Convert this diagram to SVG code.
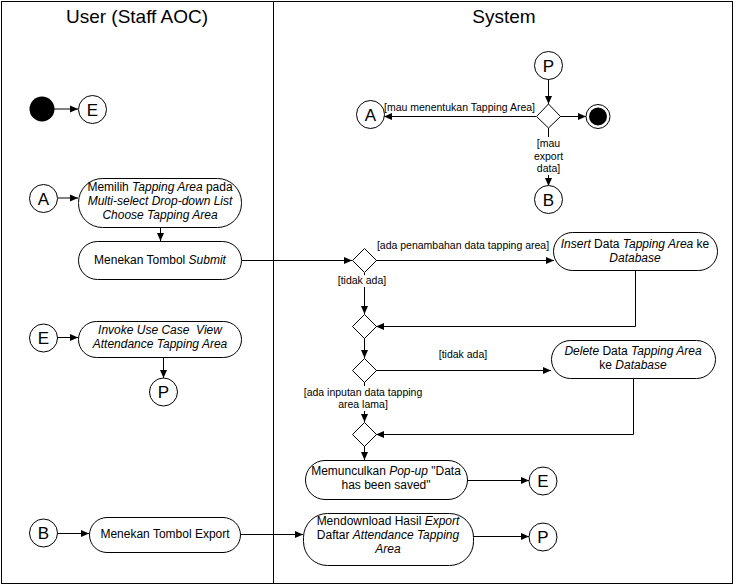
<svg xmlns="http://www.w3.org/2000/svg" width="735" height="586" viewBox="0 0 735 586">
<style>
text{font-family:"Liberation Sans",Arial,sans-serif;fill:#000}
.title{font-size:19px;text-anchor:middle}
.nt{font-size:12px;text-anchor:middle}
.lb{font-size:10.5px}
.ct{font-size:17px;text-anchor:middle}
.act{fill:#fff;stroke:#000;stroke-width:1}
.cir{fill:#fff;stroke:#000;stroke-width:1}
.dia{fill:#fff;stroke:#000;stroke-width:1}
.ln{fill:none;stroke:#000;stroke-width:1;marker-end:url(#ah)}
.bg{fill:#fff;stroke:none}
</style>
<defs>
<marker id="ah" markerUnits="userSpaceOnUse" markerWidth="8" markerHeight="8" refX="8" refY="4" orient="auto">
<path d="M0,0.5 L8,4 L0,7.5 z" fill="#000"/>
</marker>
</defs>
<rect x="0" y="0" width="735" height="586" fill="#fff"/>
<g id="lanes">
<rect x="1.5" y="1.5" width="731" height="582" fill="none" stroke="#000"/>
<line x1="273.5" y1="1.5" x2="273.5" y2="583.5" stroke="#000"/>
<text class="title" x="137" y="23">User (Staff AOC)</text>
<text class="title" x="504" y="23">System</text>
</g>
<g id="connectors">
<line class="ln" x1="54" y1="109" x2="78" y2="109"/>
<line class="ln" x1="58" y1="198" x2="78" y2="198"/>
<line class="ln" x1="160.5" y1="227" x2="160.5" y2="241"/>
<line class="ln" x1="241" y1="260.5" x2="352" y2="260.5"/>
<line class="ln" x1="376" y1="260.5" x2="554" y2="260.5"/>
<polyline class="ln" points="635.5,270 635.5,326.5 376,326.5"/>
<line class="ln" x1="364.5" y1="273" x2="364.5" y2="314"/>
<line class="ln" x1="364.5" y1="338" x2="364.5" y2="358"/>
<line class="ln" x1="376" y1="370.5" x2="551" y2="370.5"/>
<polyline class="ln" points="633.5,378 633.5,434.5 376,434.5"/>
<line class="ln" x1="364.5" y1="382" x2="364.5" y2="422"/>
<line class="ln" x1="364.5" y1="446" x2="364.5" y2="460"/>
<line class="ln" x1="467" y1="480.5" x2="529" y2="480.5"/>
<line class="ln" x1="58" y1="337.5" x2="78" y2="337.5"/>
<line class="ln" x1="163.5" y1="357" x2="163.5" y2="378"/>
<line class="ln" x1="58" y1="533.5" x2="89" y2="533.5"/>
<line class="ln" x1="240" y1="534.5" x2="303" y2="534.5"/>
<line class="ln" x1="473" y1="536.5" x2="529" y2="536.5"/>
<line class="ln" x1="548.5" y1="79" x2="548.5" y2="104"/>
<line class="ln" x1="536" y1="116.5" x2="384" y2="116.5"/>
<line class="ln" x1="560" y1="116.5" x2="586" y2="116.5"/>
<line class="ln" x1="548.5" y1="128" x2="548.5" y2="186"/>
<rect class="bg" x="530" y="137" width="37" height="38"/>
<text class="lb" x="548.5" y="147" text-anchor="middle">[mau</text>
<text class="lb" x="548.5" y="160" text-anchor="middle">export</text>
<text class="lb" x="548.5" y="172" text-anchor="middle">data]</text>
<text class="lb" x="535" y="111" text-anchor="end">[mau menentukan Tapping Area]</text>
<text class="lb" x="463" y="249" text-anchor="middle">[ada penambahan data tapping area]</text>
<rect class="bg" x="336" y="275" width="52" height="12"/>
<text class="lb" x="362" y="284" text-anchor="middle">[tidak ada]</text>
<text class="lb" x="463" y="358" text-anchor="middle">[tidak ada]</text>
<rect class="bg" x="302" y="386" width="122" height="25"/>
<text class="lb" x="363" y="396" text-anchor="middle">[ada inputan data tapping</text>
<text class="lb" x="363" y="408" text-anchor="middle">area lama]</text>
</g>
<g id="start">
<circle cx="42" cy="109" r="12.5" fill="#000"/>
</g>
<g id="conn-E1">
<circle class="cir" cx="92.5" cy="109.5" r="14"/>
<text class="ct" x="92.5" y="115.5">E</text>
</g>
<g id="conn-A1">
<circle class="cir" cx="43.5" cy="198.5" r="14"/>
<text class="ct" x="43.5" y="204.5">A</text>
</g>
<g id="memilih">
<rect class="act" x="78.5" y="178.5" width="163" height="49" rx="24" ry="24"/>
<text class="nt" x="160" y="191">Memilih <tspan font-style="italic">Tapping Area</tspan> pada</text>
<text class="nt" x="160" y="205" font-style="italic">Multi-select Drop-down List</text>
<text class="nt" x="160" y="219" font-style="italic">Choose Tapping Area</text>
</g>
<g id="submit">
<rect class="act" x="78.5" y="241.5" width="163" height="38" rx="19" ry="19"/>
<text class="nt" x="160" y="264">Menekan Tombol <tspan font-style="italic">Submit</tspan></text>
</g>
<g id="conn-E2">
<circle class="cir" cx="43.5" cy="338" r="14"/>
<text class="ct" x="43.5" y="344">E</text>
</g>
<g id="invoke">
<rect class="act" x="78.5" y="321.5" width="163" height="36" rx="18" ry="18"/>
<text class="nt" x="160" y="334" font-style="italic" xml:space="preserve">Invoke Use Case  View</text>
<text class="nt" x="160" y="348" font-style="italic">Attendance Tapping Area</text>
</g>
<g id="conn-P1">
<circle class="cir" cx="163.5" cy="392" r="14"/>
<text class="ct" x="163.5" y="398">P</text>
</g>
<g id="conn-B1">
<circle class="cir" cx="43.5" cy="533" r="14"/>
<text class="ct" x="43.5" y="539">B</text>
</g>
<g id="export">
<rect class="act" x="89.5" y="517.5" width="151" height="35" rx="17.5" ry="17.5"/>
<text class="nt" x="165" y="538">Menekan Tombol Export</text>
</g>
<g id="conn-P2">
<circle class="cir" cx="548.5" cy="65.5" r="14"/>
<text class="ct" x="548.5" y="71.5">P</text>
</g>
<g id="decision-main">
<polygon class="dia" points="548.5,104 560.5,116.5 548.5,128 536.5,116.5"/>
</g>
<g id="end">
<circle cx="598" cy="116.5" r="12" fill="#fff" stroke="#000"/>
<circle cx="598" cy="116.5" r="9" fill="#000"/>
</g>
<g id="conn-A2">
<circle class="cir" cx="370.5" cy="114.5" r="14"/>
<text class="ct" x="370.5" y="120.5">A</text>
</g>
<g id="conn-B2">
<circle class="cir" cx="548.5" cy="199.5" r="14"/>
<text class="ct" x="548.5" y="205.5">B</text>
</g>
<g id="decision-1">
<polygon class="dia" points="364.5,248.5 376.5,260.5 364.5,272.5 352.5,260.5"/>
</g>
<g id="insert">
<rect class="act" x="553.5" y="232.5" width="164" height="38" rx="19" ry="19"/>
<text class="nt" x="635" y="248"><tspan font-style="italic">Insert</tspan> Data <tspan font-style="italic">Tapping Area</tspan> ke</text>
<text class="nt" x="635" y="262" font-style="italic">Database</text>
</g>
<g id="merge-1">
<polygon class="dia" points="364.5,314.5 376.5,326.5 364.5,338.5 352.5,326.5"/>
</g>
<g id="decision-2">
<polygon class="dia" points="364.5,358.5 376.5,370.5 364.5,382.5 352.5,370.5"/>
</g>
<g id="delete">
<rect class="act" x="551.5" y="340.5" width="164" height="38" rx="19" ry="19"/>
<text class="nt" x="633" y="355"><tspan font-style="italic">Delete</tspan> Data <tspan font-style="italic">Tapping Area</tspan></text>
<text class="nt" x="633" y="369">ke <tspan font-style="italic">Database</tspan></text>
</g>
<g id="merge-2">
<polygon class="dia" points="364.5,422.5 376.5,434.5 364.5,446.5 352.5,434.5"/>
</g>
<g id="popup">
<rect class="act" x="305.5" y="460.5" width="162" height="39" rx="19.5" ry="19.5"/>
<text class="nt" x="386" y="475">Memunculkan <tspan font-style="italic">Pop-up</tspan> "Data</text>
<text class="nt" x="386" y="489">has been saved"</text>
</g>
<g id="conn-E3">
<circle class="cir" cx="543" cy="481" r="14"/>
<text class="ct" x="543" y="487">E</text>
</g>
<g id="download">
<rect class="act" x="303.5" y="513.5" width="170" height="52" rx="24" ry="24"/>
<text class="nt" x="388" y="525">Mendownload Hasil <tspan font-style="italic">Export</tspan></text>
<text class="nt" x="388" y="539">Daftar <tspan font-style="italic">Attendance Tapping</tspan></text>
<text class="nt" x="388" y="553" font-style="italic">Area</text>
</g>
<g id="conn-P3">
<circle class="cir" cx="543" cy="537" r="14"/>
<text class="ct" x="543" y="543">P</text>
</g>
</svg>
